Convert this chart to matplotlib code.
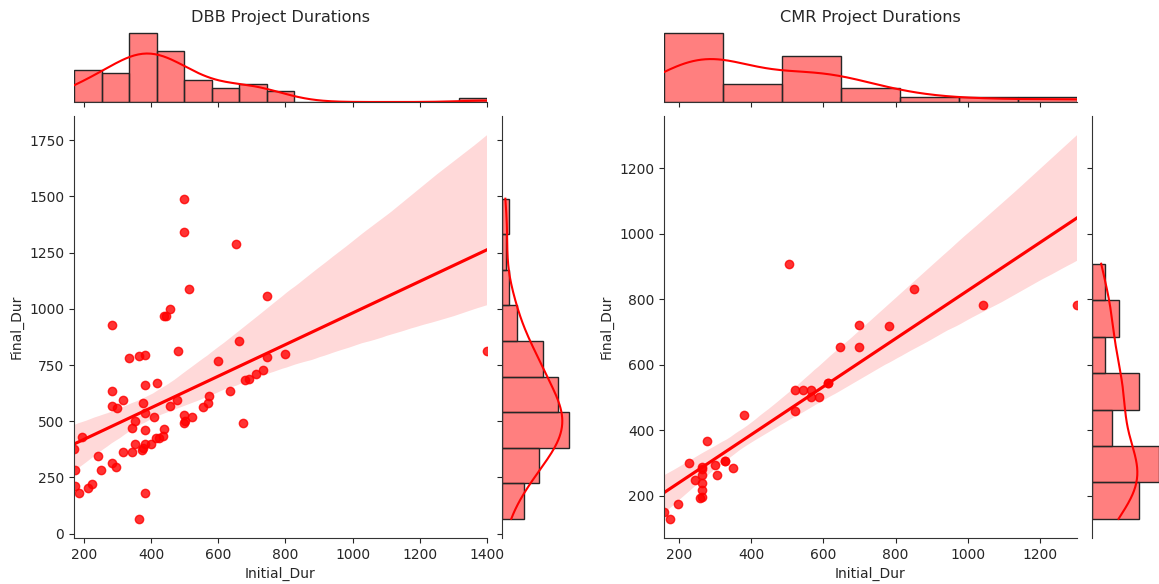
import matplotlib
matplotlib.use('Agg')
import matplotlib.pyplot as plt
import seaborn as sns

# DBB projects: initial vs final duration
dbb_initial = [497, 497, 654, 512, 745, 457, 440, 444, 285, 662, 481, 1400, 382, 365, 335,
               798, 745, 601, 733, 713, 693, 679, 417, 381, 285, 634, 573, 317, 477, 377,
               569, 285, 300, 457, 556, 382, 497, 522, 410, 500, 497, 674, 353, 345, 381,
               438, 437, 423, 415, 196, 353, 382, 401, 377, 372, 171, 317, 345, 241, 285,
               297, 252, 174, 225, 213, 174, 185, 381, 364]
dbb_final = [1490, 1342, 1290, 1090, 1055, 1000, 970, 970, 930, 855, 813, 813, 795, 790, 783,
             800, 785, 767, 730, 712, 690, 683, 672, 660, 635, 635, 612, 594, 594, 583,
             580, 567, 560, 567, 562, 538, 530, 518, 518, 500, 494, 494, 500, 472, 460,
             466, 435, 424, 424, 431, 397, 397, 397, 380, 372, 375, 365, 361, 346, 314,
             296, 282, 282, 222, 202, 212, 183, 183, 66]

# CMR projects
cmr_initial = [504, 850, 1043, 1303, 698, 783, 645, 698, 612, 612, 522, 544, 566, 566, 589,
               522, 380, 276, 228, 262, 262, 327, 327, 299, 350, 306, 245, 262, 262, 262,
               262, 259, 198, 158, 175]
cmr_final = [908, 830, 783, 783, 721, 717, 655, 655, 545, 545, 522, 522, 522, 501, 501,
             460, 446, 367, 301, 287, 283, 305, 305, 293, 284, 264, 247, 263, 238, 218,
             197, 195, 176, 150, 130]

W, H = 1159, 584
fig = plt.figure(figsize=(W / 100, H / 100), dpi=100)
plt.rcParams['text.color'] = '0.15'
plt.rcParams['axes.labelcolor'] = '0.15'
plt.rcParams['xtick.color'] = '0.15'
plt.rcParams['ytick.color'] = '0.15'
plt.rcParams['axes.edgecolor'] = '0.2'


def box(x0, y0, x1, y1):
    return [x0 / W, 1 - y1 / H, (x1 - x0) / W, (y1 - y0) / H]


def joint(left, title, x, y, ybins='auto'):
    ax = fig.add_axes(box(left, 116, left + 413, 538))
    axx = fig.add_axes(box(left, 30, left + 413, 102), sharex=ax)
    axy = fig.add_axes(box(left + 428, 116, left + 498, 538), sharey=ax)

    sns.regplot(x=x, y=y, ax=ax, color='red', truncate=True, seed=3)
    sns.histplot(x=x, ax=axx, color='red', kde=True, alpha=0.5,
                 edgecolor='0.15', linewidth=1)
    sns.histplot(y=y, ax=axy, color='red', kde=True, alpha=0.5, bins=ybins,
                 edgecolor='0.15', linewidth=1)

    ax.set_xlim(min(x), max(x))
    ax.set_xlabel('Initial_Dur')
    ax.set_ylabel('Final_Dur')
    for s in ('top', 'right'):
        ax.spines[s].set_visible(False)

    for s in ('top', 'right', 'left'):
        axx.spines[s].set_visible(False)
    axx.tick_params(labelbottom=False, left=False, labelleft=False)
    axx.set_ylabel('')
    axx.set_title(title, fontsize=11.6)

    for s in ('top', 'right', 'bottom'):
        axy.spines[s].set_visible(False)
    axy.tick_params(labelleft=False, bottom=False, labelbottom=False)
    axy.set_xlabel('')
    return ax


joint(74, 'DBB Project Durations', dbb_initial, dbb_final, ybins=9)
joint(664, 'CMR Project Durations', cmr_initial, cmr_final)

plt.savefig('out.png', dpi=100)
